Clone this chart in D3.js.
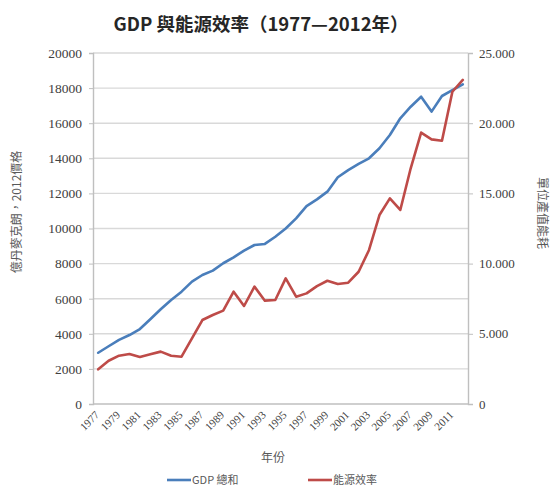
<!DOCTYPE html>
<html>
<head>
<meta charset="utf-8">
<script src="https://cdn.jsdelivr.net/npm/d3@7"></script>
<style>
  html, body { margin: 0; padding: 0; background: #fff; }
  svg { display: block; }
</style>
</head>
<body>
<div id="chart"></div>
<script>
// GDP 與能源效率 1977-2012, dos ejes
const years = d3.range(1977, 2013).map(String);
const gdpValues = [
  2920, 3290, 3650, 3930, 4270, 4830, 5400, 5930, 6400, 6970,
  7350, 7600, 8020, 8360, 8740, 9060, 9120, 9530, 10000, 10580,
  11280, 11660, 12100, 12920, 13330, 13680, 14000, 14570, 15330, 16280,
  16940, 17510, 16660, 17550, 17890, 18210
];
const efficiencyValues = [
  2.47, 3.08, 3.44, 3.56, 3.35, 3.54, 3.73, 3.44, 3.37, 4.68,
  5.98, 6.34, 6.65, 8.00, 6.98, 8.36, 7.36, 7.41, 8.95, 7.64,
  7.88, 8.40, 8.78, 8.55, 8.64, 9.42, 10.97, 13.46, 14.65, 13.82,
  16.79, 19.33, 18.85, 18.75, 22.24, 23.08
];
const leftTicks = d3.range(0, 20001, 2000);
const rightTicks = [0, 5, 10, 15, 20, 25];
const xLabelYears = years.filter((y, i) => i % 2 === 0 && +y <= 2011);

const width = 555, height = 488;
const plot = { left: 93, right: 468, top: 53, bottom: 404 };

const svg = d3.select('#chart').append('svg')
  .attr('width', width)
  .attr('height', height);

const x = d3.scaleBand().domain(years).range([plot.left, plot.right]).padding(0);
const yLeft = d3.scaleLinear().domain([0, 20000]).range([plot.bottom, plot.top]);
const yRight = d3.scaleLinear().domain([0, 25]).range([plot.bottom, plot.top]);
const cx = d => x(d) + x.bandwidth() / 2;

const serif = '"Liberation Serif", "DejaVu Serif", serif';
const cjk = '"Noto Sans CJK TC", "Noto Sans CJK SC", sans-serif';
const gridColor = '#d9d9d9';
const axisColor = '#bfbfbf';
const textColor = '#404040';

// Título
svg.append('text')
  .attr('x', 261).attr('y', 31)
  .attr('text-anchor', 'middle')
  .attr('font-family', cjk)
  .attr('font-weight', 'bold')
  .attr('font-size', 18.5)
  .attr('fill', '#262626')
  .text('GDP 與能源效率（1977—2012年）');

// Cuadrícula horizontal
svg.append('g')
  .selectAll('line')
  .data(leftTicks.filter(d => d > 0))
  .join('line')
  .attr('x1', plot.left).attr('x2', plot.right)
  .attr('y1', d => yLeft(d)).attr('y2', d => yLeft(d))
  .attr('stroke', gridColor)
  .attr('stroke-width', 1.4);

// Eje izquierdo
const leftAxis = svg.append('g')
  .attr('transform', `translate(${plot.left},0)`)
  .call(d3.axisLeft(yLeft).tickValues(leftTicks).tickSize(4).tickPadding(7).tickFormat(d3.format('d')));
leftAxis.select('.domain').attr('stroke', axisColor).attr('stroke-width', 1.4);
leftAxis.selectAll('.tick line').attr('stroke', axisColor);
leftAxis.selectAll('text')
  .attr('font-family', serif).attr('font-size', 13.5).attr('fill', textColor);

// Eje derecho
const rightAxis = svg.append('g')
  .attr('transform', `translate(${plot.right},0)`)
  .call(d3.axisRight(yRight).tickValues(rightTicks).tickSize(5).tickPadding(6)
    .tickFormat(d => d === 0 ? '0' : d3.format('.3f')(d)));
rightAxis.select('.domain').attr('stroke', axisColor).attr('stroke-width', 1.4);
rightAxis.selectAll('.tick line').attr('stroke', axisColor);
rightAxis.selectAll('text')
  .attr('font-family', serif).attr('font-size', 13).attr('fill', textColor);

// Eje inferior
svg.append('line')
  .attr('x1', plot.left).attr('x2', plot.right)
  .attr('y1', plot.bottom).attr('y2', plot.bottom)
  .attr('stroke', axisColor).attr('stroke-width', 1.4);

svg.append('g')
  .selectAll('text')
  .data(xLabelYears)
  .join('text')
  .attr('transform', d => `translate(${cx(d) - 1},${plot.bottom + 9}) rotate(-45)`)
  .attr('text-anchor', 'end')
  .attr('dy', '0.35em')
  .attr('font-family', serif)
  .attr('font-size', 11)
  .attr('fill', textColor)
  .text(d => d);

// Títulos de ejes
svg.append('text')
  .attr('transform', 'translate(21,212) rotate(-90)')
  .attr('text-anchor', 'middle')
  .attr('font-family', cjk)
  .attr('font-size', 12)
  .attr('fill', '#595959')
  .text('億丹麥克朗，2012價格');

svg.append('text')
  .attr('transform', 'translate(538,213) rotate(90)')
  .attr('text-anchor', 'middle')
  .attr('font-family', cjk)
  .attr('font-size', 12)
  .attr('fill', '#595959')
  .text('單位產值能耗');

svg.append('text')
  .attr('x', 273).attr('y', 462)
  .attr('text-anchor', 'middle')
  .attr('font-family', cjk)
  .attr('font-size', 12)
  .attr('fill', '#595959')
  .text('年份');

// Líneas
const series = [
  { name: 'GDP 總和', values: gdpValues, scale: yLeft, color: '#4a7ebb' },
  { name: '能源效率', values: efficiencyValues, scale: yRight, color: '#be4b48' }
];

series.forEach(s => {
  const line = d3.line()
    .x((d, i) => cx(years[i]))
    .y(d => s.scale(d));
  svg.append('path')
    .datum(s.values)
    .attr('fill', 'none')
    .attr('stroke', s.color)
    .attr('stroke-width', 2.6)
    .attr('stroke-linejoin', 'round')
    .attr('stroke-linecap', 'round')
    .attr('d', line);
});

// Leyenda
const legendX = [167, 308];
const legend = svg.append('g')
  .selectAll('g')
  .data(series)
  .join('g')
  .attr('transform', (d, i) => `translate(${legendX[i]},480)`);
legend.append('line')
  .attr('x1', 0).attr('x2', 24)
  .attr('stroke', d => d.color)
  .attr('stroke-width', 2.6);
legend.append('text')
  .attr('x', 25).attr('dy', '0.35em')
  .attr('font-family', cjk)
  .attr('font-size', 11)
  .attr('fill', '#595959')
  .text(d => d.name);
</script>
</body>
</html>
